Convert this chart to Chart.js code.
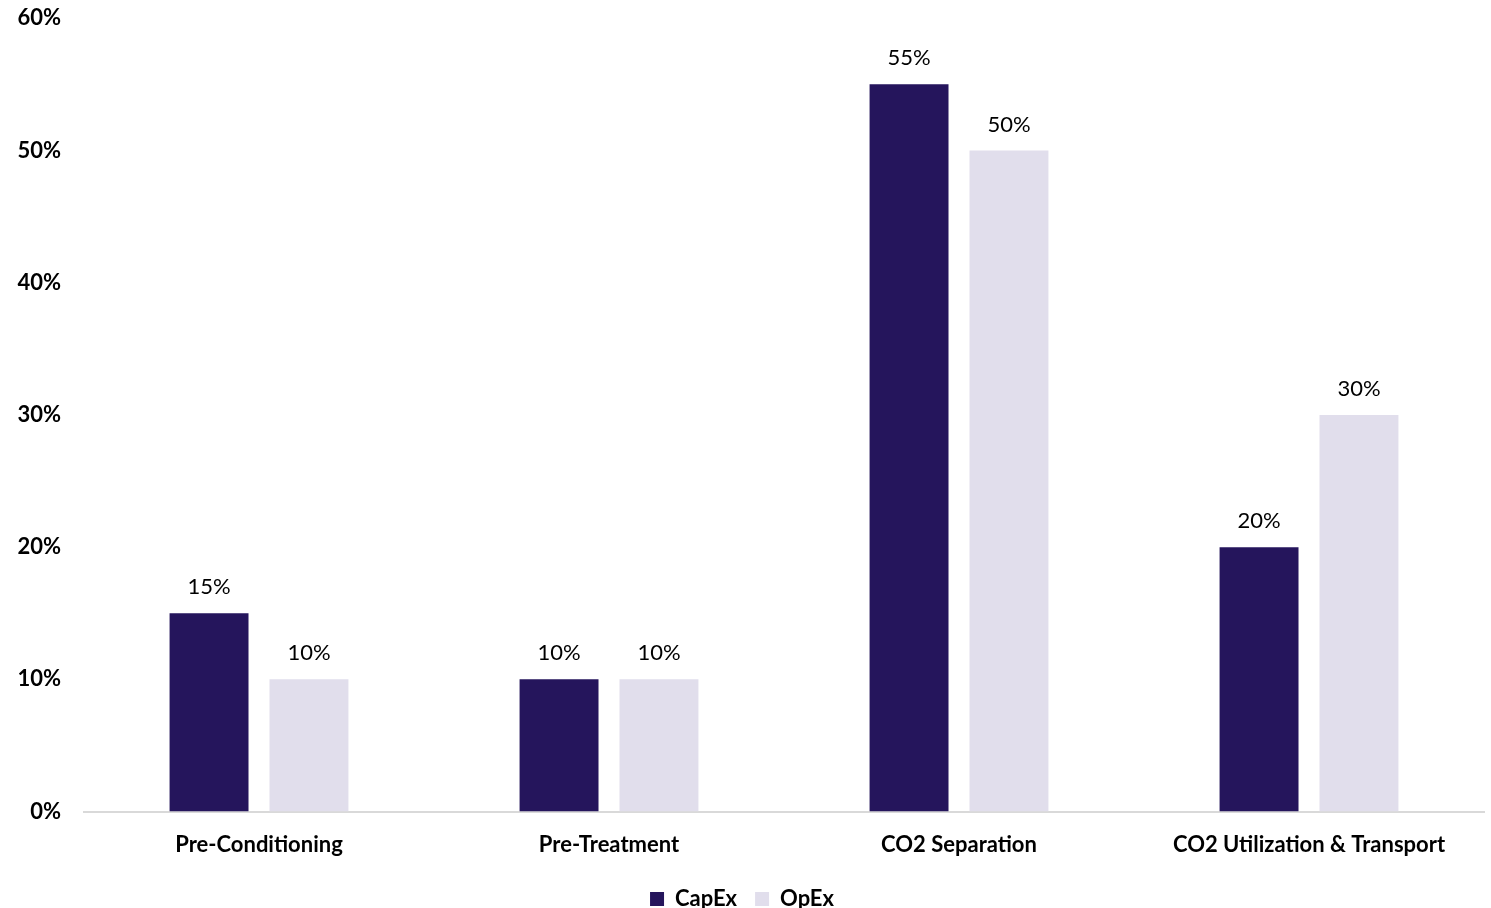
<!DOCTYPE html>
<html>
<head>
<meta charset="utf-8">
<script src="https://cdn.jsdelivr.net/npm/chart.js@4"></script>
<style>
  html, body { margin: 0; padding: 0; background: #fff; overflow: hidden; }
  #wrap { width: 1491px; height: 925px; margin-top: -10px; }
</style>
</head>
<body>
<div id="wrap"><canvas id="costChart"></canvas></div>
<script>
// Cost split by process step
const categories = ['Pre-Conditioning', 'Pre-Treatment', 'CO2 Separation', 'CO2 Utilization & Transport'];
const capex = [15, 10, 55, 20];
const opex = [10, 10, 50, 30];
const yTicks = [0, 10, 20, 30, 40, 50, 60];

const FONT = 'Lato, "Open Sans", sans-serif';

// draws the value over each bar
const barLabels = {
    id: 'barLabels',
    afterDatasetsDraw(chart) {
        const ctx = chart.ctx;
        ctx.save();
        ctx.font = '22px ' + FONT;
        ctx.fillStyle = '#000';
        ctx.textAlign = 'center';
        ctx.textBaseline = 'bottom';
        chart.data.datasets.forEach((ds, i) => {
            chart.getDatasetMeta(i).data.forEach((bar, j) => {
                ctx.fillText(ds.data[j] + '%', bar.x, bar.y - 15);
            });
        });
        ctx.restore();
    }
};

new Chart(document.getElementById('costChart'), {
    type: 'bar',
    data: {
        labels: categories,
        datasets: [
            { label: 'CapEx', data: capex, backgroundColor: '#25155C' },
            { label: 'OpEx', data: opex, backgroundColor: '#E1DEEC' }
        ]
    },
    options: {
        responsive: true,
        maintainAspectRatio: false,
        animation: false,
        categoryPercentage: 0.571,
        barPercentage: 0.79,
        layout: { padding: { left: 0, right: 7, top: 0, bottom: -5 } },
        plugins: {
            legend: {
                position: 'bottom',
                labels: {
                    font: { family: FONT, size: 22, weight: 'bold' },
                    color: '#000',
                    boxWidth: 14,
                    boxHeight: 14,
                    padding: 18
                }
            },
            tooltip: { enabled: false }
        },
        scales: {
            x: {
                grid: { display: false },
                border: { display: true, color: '#D9D9D9', width: 2 },
                ticks: {
                    font: { family: FONT, size: 22, weight: 'bold' },
                    color: '#000',
                    padding: 12
                }
            },
            y: {
                min: 0,
                max: 60,
                afterBuildTicks: axis => { axis.ticks = yTicks.map(v => ({ value: v })); },
                afterFit: axis => { axis.width = 84; },
                grid: { display: false },
                border: { display: false },
                ticks: {
                    font: { family: FONT, size: 22, weight: 'bold' },
                    color: '#000',
                    padding: 15,
                    callback: v => v + '%'
                }
            }
        }
    },
    plugins: [barLabels]
});
</script>
</body>
</html>
